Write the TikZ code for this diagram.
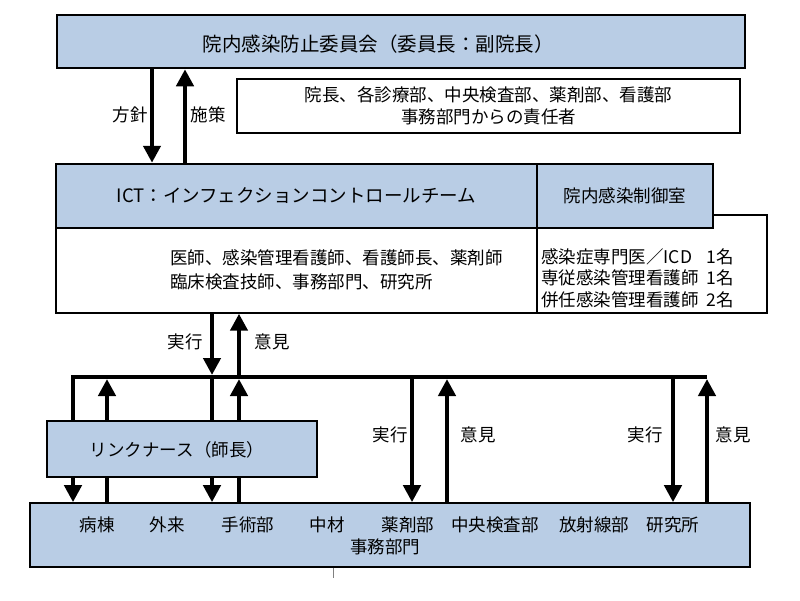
\documentclass[tikz,border=0pt]{standalone}
\usepackage{fontspec}
\setmainfont{Noto Sans CJK JP}
\usetikzlibrary{arrows.meta}
\definecolor{boxblue}{RGB}{185,205,229}
\begin{document}
\begin{tikzpicture}[x=1pt,y=-1pt,
    every node/.style={font=\fontsize{17.5}{21.5}\selectfont, inner sep=0pt},
    bluebox/.style={draw, fill=boxblue, line width=2.5pt},
    thinblue/.style={draw, fill=boxblue, line width=1.6pt},
    whitebox/.style={draw, fill=white, line width=1.4pt},
    bar/.style={line width=4.5pt},
    arr/.style={line width=4.5pt, -{Triangle[width=17pt,length=17pt]}}
]
\useasboundingbox (0,0) rectangle (800,600);

% committee
\node[bluebox, minimum width=688, minimum height=53] (committee) at (401,41.5) {};
\node (title) at (378,44) {\fontsize{19.5}{22}\selectfont 院内感染防止委員会（委員長：副院長）};
\node[whitebox, minimum width=503, minimum height=54, align=center] (members) at (488.5,106)
    {院長、各診療部、中央検査部、薬剤部、看護部\\事務部門からの責任者};

% ICT
\node[whitebox, minimum width=230, minimum height=98] (panel) at (652,264) {};
\node[whitebox, minimum width=481, minimum height=85] (ictbox) at (296.5,270.5) {};
\node[bluebox, minimum width=481, minimum height=64, font=\fontsize{18.5}{22}\selectfont] (ict) at (296.5,196)
    {ICT：インフェクションコントロールチーム};
\node[bluebox, minimum width=176, minimum height=64] (office) at (625,196) {院内感染制御室};
\node[anchor=west, align=left, font=\fontsize{17.5}{24}\selectfont] (ictstaff) at (170,270)
    {医師、感染管理看護師、看護師長、薬剤師\\臨床検査技師、事務部門、研究所};
\node[anchor=west] (officestaff) at (541,280.5) {%
    \begin{tabular}{@{}l@{\hspace{8pt}}l@{}}
    感染症専門医／ICD & 1名\\
    専従感染管理看護師 & 1名\\
    併任感染管理看護師 & 2名
    \end{tabular}};

% link nurse and units
\node[thinblue, minimum width=270, minimum height=56] (link) at (182,449) {};
\node (linktext) at (177,450) {リンクナース（師長）};
\node[thinblue, minimum width=720, minimum height=64] (units) at (390,535) {};
\node (ward) at (97,525) {病棟};
\node (outpt) at (167,525) {外来};
\node (surg) at (248,525) {手術部};
\node (cssd) at (327,525) {中材};
\node (pharm) at (408,525) {薬剤部};
\node (lab) at (495,525) {中央検査部};
\node (radio) at (594,525) {放射線部};
\node (research) at (673,525) {研究所};
\node (admin) at (385,547) {事務部門};

% arrows committee <-> ICT
\coordinate (pol) at (152,0);
\coordinate (mea) at (185,0);
\draw[arr] (pol |- committee.south) -- (pol |- ict.north);
\draw[arr] (mea |- ict.north) -- (mea |- committee.south);
\node (polabel) at (130,115) {方針};
\node (mealabel) at (208,115) {施策};

% bus
\coordinate (b1) at (73,377);
\coordinate (b2) at (107,377);
\coordinate (b3) at (212,377);
\coordinate (b4) at (239,377);
\coordinate (b5) at (412,377);
\coordinate (b6) at (447,377);
\coordinate (b7) at (673,377);
\coordinate (b8) at (707,377);
\draw[bar] (b1 |- link.north) -- (b1) -- (b8);

\draw[arr, shorten >=2pt] (b3 |- ictbox.south) -- (b3);
\draw[arr] (b4) -- (b4 |- ictbox.south);
\node (exec0) at (185,342) {実行};
\node (opin0) at (272,342) {意見};

% through link nurse
\draw[arr] (b1 |- link.south) -- (b1 |- units.north);
\draw[bar] (b2 |- units.north) -- (b2 |- link.south);
\draw[arr, shorten >=2pt] (b2 |- link.north) -- (b2);
\draw[bar] (b3) -- (b3 |- link.north);
\draw[arr] (b3 |- link.south) -- (b3 |- units.north);
\draw[bar] (b4 |- units.north) -- (b4 |- link.south);
\draw[arr, shorten >=2pt] (b4 |- link.north) -- (b4);

% direct to units
\draw[arr] (b5) -- (b5 |- units.north);
\draw[arr, shorten >=2pt] (b6 |- units.north) -- (b6);
\draw[arr] (b7) -- (b7 |- units.north);
\draw[arr, shorten >=2pt] (b8 |- units.north) -- (b8);
\node (exec1) at (390,435) {実行};
\node (opin1) at (478,435) {意見};
\node (exec2) at (645,435) {実行};
\node (opin2) at (733,435) {意見};

\coordinate (tick) at (333,578);
\draw[gray, thin] (tick |- units.south) -- (tick);
\end{tikzpicture}
\end{document}
